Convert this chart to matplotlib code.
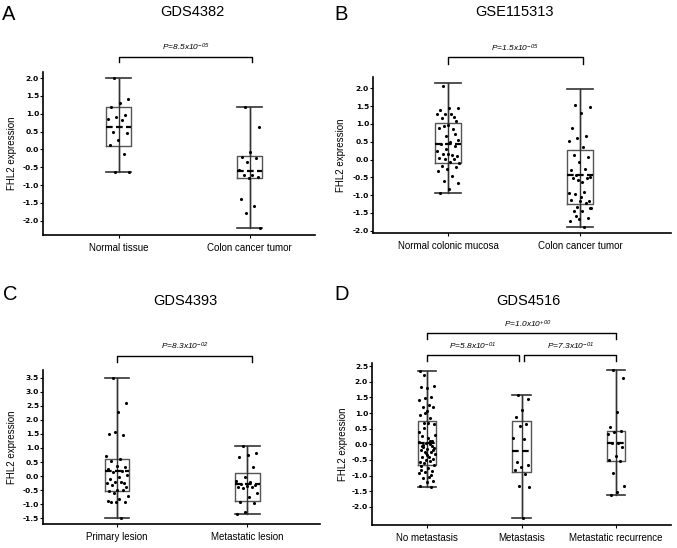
import matplotlib
matplotlib.use("Agg")
import matplotlib.pyplot as plt
import numpy as np

plt.rcParams['font.family'] = ['Liberation Sans', 'DejaVu Sans']
plt.rcParams['axes.unicode_minus'] = False
plt.rcParams['mathtext.fontset'] = 'custom'
plt.rcParams['mathtext.it'] = 'Liberation Sans:italic'
plt.rcParams['mathtext.rm'] = 'Liberation Sans:italic'
plt.rcParams['mathtext.default'] = 'it'

# ---------------- data ----------------
# Panel A: GDS4382
a_cats = ["Normal tissue", "Colon cancer tumor"]
a_normal = [2.0, 1.41, 1.31, 1.2, 0.97, 0.9, 0.85, 0.82, 0.5, 0.46, 0.27, 0.12, -0.13, -0.64, -0.63]
a_tumor = [1.2, 0.62, -0.06, -0.2, -0.25, -0.35, -0.59, -0.72, -0.73, -0.76, -0.79, -1.4, -1.58, -1.79, -2.2]
a_q1 = [0.11, -0.79]
a_med = [0.62, -0.6]
a_q3 = [1.2, -0.18]
a_lo = [-0.64, -2.2]
a_hi = [2.0, 1.2]
a_p = ["8.5", "-05"]

# Panel B: GSE115313
b_cats = ["Normal colonic mucosa", "Colon cancer tumor"]
b_normal = [2.07, 1.45, 1.46, 1.40, 1.19, 1.27, 1.27, 1.28, 1.18, 1.08, 0.97, 0.90, 0.86, 0.95,
            0.55, 0.50, 0.43, 0.38, 0.30, 0.25, 0.13, 0.16, 0.10, 0.17, 0.03, 0.01, 0.01, -0.09,
            -0.08, -0.18, -0.22, -0.26, -0.31, -0.46, -0.60, -0.67, -0.83, -0.95, 0.72, 0.65]
b_tumor = [1.53, 1.48, 1.32, 0.89, 0.67, 0.62, 0.53, 0.34, 0.13, 0.07, -0.07, -0.28, -0.27,
           -0.44, -0.48, -0.62, -0.53, -0.53, -0.58, -0.95, -0.92, -0.98, -1.17, -1.17, -1.15,
           -1.23, -1.33, -1.37, -1.45, -1.45, -1.65, -1.68, -1.72, -1.9, -1.6, -1.35, -1.04]
b_q1 = [-0.09, -1.26]
b_med = [0.44, -0.44]
b_q3 = [1.04, 0.28]
b_lo = [-0.95, -1.9]
b_hi = [2.15, 1.98]
b_p = ["1.5", "-05"]

# Panel C: GDS4393
c_cats = ["Primary lesion", "Metastatic lesion"]
c_primary = [3.5, 2.61, 2.29, 1.49, 1.46, 1.56, 0.73, 0.6, 0.53, 0.34, 0.37, 0.25, 0.18, 0.14,
             0.04, -0.03, -0.11, -0.23, -0.2, -0.26, -0.22, -0.32, -0.39, -0.5, -0.53, -0.5,
             -0.61, -0.71, -0.8, -0.91, -0.91, -0.92, -0.88, -1.49]
c_meta = [1.06, 0.81, 0.74, 0.67, 0.32, -0.03, -0.17, -0.22, -0.29, -0.32, -0.34, -0.37, -0.40,
          -0.43, -0.59, -0.73, -0.92, -0.97, -1.26, -1.35]
c_q1 = [-0.53, -0.88]
c_med = [0.19, -0.29]
c_q3 = [0.6, 0.1]
c_lo = [-1.49, -1.35]
c_hi = [3.5, 1.06]
c_p = ["8.3", "-02"]

# Panel D: GDS4516
d_cats = ["No metastasis", "Metastasis", "Metastatic recurrence"]
d_nometa = [2.21, 1.85, 1.80, 1.82, 1.5, 1.47, 1.43, 1.27, 1.18, 1.18, 1.05, 0.93, 0.85, 0.69,
            0.65, 0.69, 0.28, 0.12, 0.03, 0.06, 0.0, -0.09, -0.17, -0.15, -0.19, -0.24, -0.26,
            -0.32, -0.4, -0.41, -0.47, -0.51, -0.56, -0.54, -0.61, -0.67, -0.77, -0.83, -0.86,
            -0.89, -0.93, -1.04, -1.07, -1.18, -1.2, -1.33, -1.35, 0.53, 0.29, 0.19, -0.07,
            -0.05, -0.29, 2.33, 0.1, -0.02, -0.12, -0.35, -0.7, -0.98, 1.0, 0.4]
d_meta = [1.57, 1.46, 1.09, 0.86, 0.64, 0.59, 0.21, 0.17, -0.56, -0.67, -0.74, -0.83, -0.95,
          -1.33, -1.37, -2.35]
d_recur = [2.37, 2.12, 1.03, 0.56, 0.42, 0.38, 0.33, 0.04, 0.05, -0.1, -0.37, -0.5, -0.54,
           -0.93, -1.33, -1.52, -1.63]
d_q1 = [-0.65, -0.88, -0.54]
d_med = [0.05, -0.21, 0.04]
d_q3 = [0.73, 0.75, 0.41]
d_lo = [-1.35, -2.35, -1.63]
d_hi = [2.35, 1.57, 2.37]
d_p = [("1.0", "+00"), ("5.8", "-01"), ("7.3", "-01")]

# ---------------- drawing ----------------
W, H = 677, 548
fig = plt.figure(figsize=(W / 100, H / 100), dpi=100)


def rect(x0, y_top, x1, y_bot):
    return [x0 / W, 1 - y_bot / H, (x1 - x0) / W, (y_bot - y_top) / H]


BOXC = '#555555'
LINEC = '#333333'


def panel(r, groups, q1, med, q3, lo, hi, cats, xlim, ylim, yticks, width, ylab_x):
    ax = fig.add_axes(r)
    pos = np.arange(len(groups))
    stats = []
    for i in range(len(groups)):
        stats.append(dict(med=med[i], q1=q1[i], q3=q3[i], whislo=lo[i], whishi=hi[i], fliers=[]))
    ax.vlines(pos, lo, hi, color=LINEC, lw=1.0, zorder=1)
    ax.bxp(stats, positions=pos, widths=width, capwidths=width, showfliers=False,
           boxprops=dict(color=BOXC, lw=1.0),
           whiskerprops=dict(color=LINEC, lw=1.0),
           capprops=dict(color=LINEC, lw=1.2),
           medianprops=dict(color='black', lw=1.6, ls=(0, (3, 1.5))),
           zorder=2)
    for i, g in enumerate(groups):
        n = len(g)
        offs = (((np.arange(n) * 0.618034 + 0.3) % 1.0) - 0.5) * width * 0.9
        ax.scatter(pos[i] + offs, g, s=5, color='black', zorder=3, lw=0)
    ax.set_xlim(*xlim)
    ax.set_ylim(*ylim)
    ax.set_xticks(pos)
    ax.set_xticklabels(cats, fontsize=7)
    ax.set_yticks(yticks)
    ax.set_yticklabels(['%.1f' % v for v in yticks], fontsize=5.4, fontweight='bold',
                       family='DejaVu Sans')
    ax.tick_params(axis='y', length=2, width=0.8, pad=0.8)
    ax.tick_params(axis='x', length=2.5, width=0.8, pad=3.5)
    for s in ['top', 'right']:
        ax.spines[s].set_visible(False)
    for s in ['left', 'bottom']:
        ax.spines[s].set_linewidth(1.2)
    ax.set_ylabel('FHL2 expression', fontsize=7)
    ax.yaxis.set_label_coords(ylab_x, 0.5)
    return ax


def bracket(ax, x0, x1, yb, yl, yt, mant, exp, tx=None):
    ax.plot([x0, x0, x1, x1], [yl, yb, yb, yl], color='black', lw=1.0, clip_on=False)
    if tx is None:
        tx = (x0 + x1) / 2
    ax.text(tx, yt, r'P=%sx10$^{%s}$' % (mant, exp), fontsize=6, fontstyle='italic',
            ha='center', va='bottom')


def title(x, y, t, letter, lx, ly):
    fig.text(x / W, 1 - y / H, t, fontsize=10.5, ha='center', va='center')
    fig.text(lx / W, 1 - ly / H, letter, fontsize=14.5, ha='left', va='center')


# A
axA = panel(rect(43, 71.7, 315, 235), [a_normal, a_tumor], a_q1, a_med, a_q3, a_lo, a_hi,
            a_cats, (-0.58, 1.50), (-2.40, 2.18), np.arange(-2.0, 2.01, 0.5), 0.19, -0.096)
bracket(axA, 0, 1.02, 2.60, 2.45, 2.70, *a_p)
title(192, 12, "GDS4382", "A", 2, 14)

# B
axB = panel(rect(373, 76.7, 671, 233), [b_normal, b_tumor], b_q1, b_med, b_q3, b_lo, b_hi,
            b_cats, (-0.568, 1.69), (-2.065, 2.33), np.arange(-2.0, 2.01, 0.5), 0.195, -0.09)
bracket(axB, 0, 1.02, 2.87, 2.70, 2.97, *b_p)
title(515, 12, "GSE115313", "B", 334, 14)

# C
axC = panel(rect(43, 370, 320, 524), [c_primary, c_meta], c_q1, c_med, c_q3, c_lo, c_hi,
            c_cats, (-0.57, 1.56), (-1.70, 3.77), np.arange(-1.5, 3.51, 0.5), 0.19, -0.094)
bracket(axC, 0, 1.04, 4.25, 4.05, 4.40, *c_p)
title(185, 300.7, "GDS4393", "C", 3, 294)

# D
axD = panel(rect(372, 363.3, 671, 525), [d_nometa, d_meta, d_recur], d_q1, d_med, d_q3, d_lo,
            d_hi, d_cats, (-0.58, 2.58), (-2.58, 2.59), np.arange(-2.0, 2.51, 0.5), 0.195, -0.08)
bracket(axD, 0, 2, 3.55, 3.36, 3.66, *d_p[0], tx=1.07)
bracket(axD, 0, 0.97, 2.85, 2.66, 2.94, *d_p[1])
bracket(axD, 1.03, 2, 2.85, 2.66, 2.94, *d_p[2])
title(528, 300.7, "GDS4516", "D", 334, 294)

fig.savefig('out.png', dpi=100)
